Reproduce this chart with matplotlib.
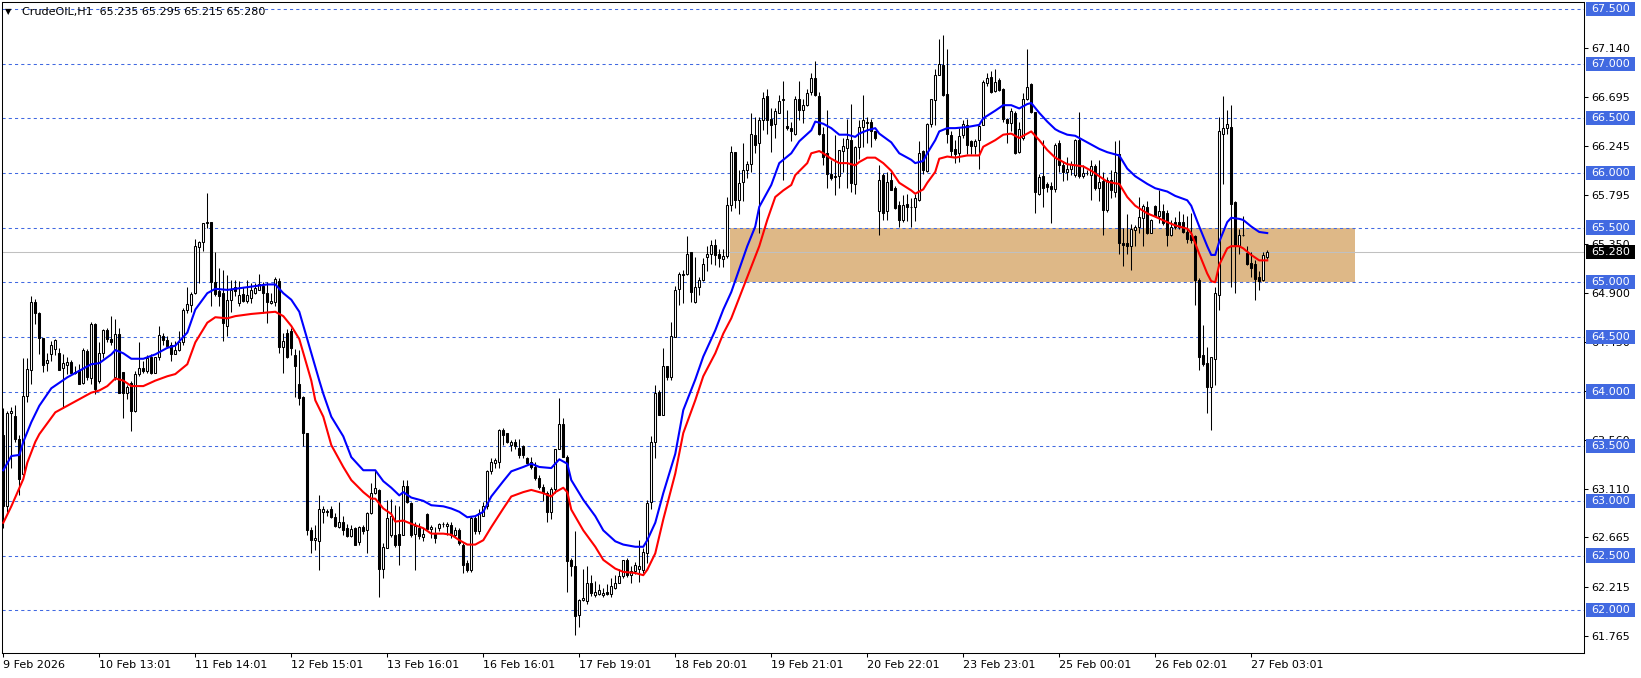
import matplotlib
matplotlib.use("Agg")
import matplotlib.pyplot as plt
import matplotlib.transforms as mtransforms
from matplotlib.patches import Rectangle
import numpy as np

# CrudeOIL H1 candles, one entry per bar (bar 0 = 9 Feb 2026)
opens = [
    63.60, 62.95, 63.80, 63.78, 63.57, 63.25, 63.96, 64.20, 64.82, 64.72,
    64.49, 64.26, 64.34, 64.39, 64.35, 64.22, 64.24, 64.27, 64.17, 64.20,
    64.08, 64.37, 64.12, 64.62, 64.10, 64.35, 64.56, 64.48, 64.13, 64.53,
    64.18, 63.99, 64.08, 63.82, 64.16, 64.22, 64.19, 64.32, 64.17, 64.32,
    64.51, 64.47, 64.43, 64.34, 64.38, 64.45, 64.75, 64.79, 64.90, 65.32,
    65.37, 65.54, 65.55, 65.00, 64.92, 64.90, 64.60, 64.84, 64.96, 64.81,
    64.89, 64.83, 64.86, 64.90, 64.93, 64.97, 64.90, 64.81, 64.82, 65.01,
    64.41, 64.54, 64.55, 64.33, 64.07, 63.95, 63.62, 62.73, 62.64, 62.63,
    62.90, 62.90, 62.93, 62.85, 62.76, 62.81, 62.75, 62.68, 62.75, 62.62,
    62.76, 62.73, 62.89, 63.07, 63.10, 62.38, 62.57, 62.69, 62.69, 62.70,
    62.69, 63.14, 62.98, 62.70, 62.75, 62.67, 62.88, 62.74, 62.70, 62.75,
    62.79, 62.77, 62.78, 62.69, 62.73, 62.60, 62.43, 62.37, 62.84, 62.72,
    62.86, 62.95, 63.27, 63.35, 63.36, 63.65, 63.62, 63.51, 63.54, 63.48,
    63.50, 63.39, 63.36, 63.31, 63.21, 63.13, 63.07, 62.90, 63.11, 63.47,
    63.70, 63.40, 62.46, 62.40, 61.96, 62.09, 62.08, 62.25, 62.14, 62.15,
    62.14, 62.17, 62.15, 62.20, 62.25, 62.31, 62.46, 62.32, 62.36, 62.38,
    62.37, 62.52, 62.99, 63.54, 64.00, 63.79, 64.23, 64.13, 64.50, 64.94,
    65.08, 65.08, 65.28, 64.82, 64.96, 65.02, 65.23, 65.26, 65.34, 65.26,
    65.21, 65.24, 65.71, 66.19, 65.75, 65.92, 66.03, 66.08, 66.35, 66.27,
    66.48, 66.70, 66.49, 66.45, 66.55, 66.67, 66.43, 66.41, 66.36, 66.68,
    66.58, 66.62, 66.74, 66.87, 66.70, 66.36, 66.18, 65.99, 65.97, 65.97,
    66.20, 66.23, 66.30, 65.90, 66.24, 66.42, 66.47, 66.47, 66.38, 65.65,
    65.98, 65.65, 65.94, 65.86, 65.71, 65.57, 65.72, 65.69, 65.69, 65.75,
    66.20, 66.02, 66.45, 66.67, 66.90, 66.99, 66.72, 66.35, 66.22, 66.18,
    66.35, 66.44, 66.29, 66.25, 66.30, 66.44, 66.82, 66.88, 66.75, 66.85,
    66.77, 66.49, 66.46, 66.55, 66.19, 66.32, 66.68, 66.81, 66.56, 65.81,
    65.97, 65.90, 65.88, 65.85, 66.27, 66.07, 66.01, 66.04, 65.98, 66.30,
    65.97, 66.00, 65.98, 66.06, 65.86, 65.93, 65.66, 65.94, 65.83, 66.17,
    65.36, 65.36, 65.33, 65.48, 65.51, 65.59, 65.69, 65.45, 65.70, 65.61,
    65.65, 65.63, 65.43, 65.55, 65.55, 65.55, 65.46, 65.43, 65.42, 65.02,
    64.33, 64.26, 64.04, 64.30, 64.88, 66.36, 66.41, 66.42, 65.73, 65.33,
    65.43, 65.27, 65.18, 65.17, 65.05, 65.02, 65.235,
]
highs = [
    63.85, 63.82, 63.86, 63.88, 63.60, 64.31, 64.31, 64.87, 64.85, 64.73,
    64.49, 64.35, 64.46, 64.48, 64.40, 64.34, 64.32, 64.29, 64.23, 64.25,
    64.40, 64.39, 64.64, 64.63, 64.45, 64.57, 64.58, 64.69, 64.66, 64.58,
    64.18, 64.06, 64.10, 64.19, 64.45, 64.28, 64.33, 64.34, 64.32, 64.60,
    64.54, 64.51, 64.45, 64.46, 64.55, 64.76, 64.96, 64.91, 65.40, 65.38,
    65.54, 65.82, 65.55, 65.28, 65.13, 65.11, 65.07, 65.02, 65.02, 65.01,
    64.96, 65.02, 64.99, 64.99, 65.08, 65.00, 65.00, 64.90, 65.05, 65.04,
    64.54, 64.57, 64.58, 64.39, 64.38, 63.96, 63.62, 62.76, 62.78, 63.05,
    62.95, 62.93, 62.95, 62.89, 62.99, 62.86, 62.79, 62.78, 62.76, 62.77,
    62.78, 62.90, 63.16, 63.28, 63.11, 62.61, 63.01, 63.02, 62.96, 62.95,
    63.19, 63.19, 62.99, 62.81, 62.80, 62.75, 62.89, 62.78, 62.76, 62.80,
    62.81, 62.81, 62.81, 62.76, 62.75, 62.61, 62.46, 62.86, 62.86, 62.93,
    62.99, 63.28, 63.39, 63.39, 63.66, 63.67, 63.62, 63.56, 63.57, 63.57,
    63.51, 63.40, 63.40, 63.36, 63.24, 63.15, 63.09, 63.13, 63.47, 63.94,
    63.76, 63.42, 62.48, 62.72, 62.10, 62.38, 62.40, 62.32, 62.27, 62.24,
    62.20, 62.24, 62.29, 62.32, 62.38, 62.46, 62.48, 62.40, 62.44, 62.64,
    62.57, 63.01, 63.59, 64.06, 64.01, 64.40, 64.23, 64.64, 64.97, 65.09,
    65.11, 65.42, 65.28, 65.23, 65.05, 65.22, 65.33, 65.39, 65.40, 65.30,
    65.30, 65.78, 66.25, 66.19, 66.03, 66.27, 66.11, 66.55, 66.51, 66.51,
    66.74, 66.77, 66.59, 66.59, 66.71, 66.84, 66.58, 66.47, 66.70, 66.84,
    66.68, 66.77, 66.91, 67.02, 66.74, 66.42, 66.58, 66.12, 66.35, 66.21,
    66.32, 66.49, 66.63, 66.25, 66.48, 66.71, 66.51, 66.49, 66.38, 66.07,
    66.00, 66.01, 66.01, 65.88, 65.74, 65.80, 65.81, 65.77, 65.81, 66.29,
    66.21, 66.46, 66.68, 66.95, 67.23, 67.26, 67.13, 66.38, 66.30, 66.41,
    66.48, 66.49, 66.30, 66.31, 66.44, 66.85, 66.91, 66.93, 66.95, 66.87,
    66.78, 66.50, 66.59, 66.57, 66.47, 66.73, 67.13, 66.82, 66.56, 65.99,
    66.30, 65.92, 65.92, 66.27, 66.30, 66.11, 66.15, 66.11, 66.31, 66.56,
    66.07, 66.03, 66.12, 66.08, 66.12, 66.01, 65.96, 66.03, 66.29, 66.30,
    65.50, 65.62, 65.53, 65.52, 65.78, 65.72, 65.74, 65.58, 65.71, 65.84,
    65.72, 65.66, 65.57, 65.60, 65.65, 65.62, 65.61, 65.63, 65.43, 65.04,
    64.61, 64.41, 64.32, 64.96, 66.51, 66.70, 66.58, 66.62, 65.74, 65.49,
    65.61, 65.33, 65.28, 65.20, 65.10, 65.28, 65.295,
]
lows = [
    62.75, 62.90, 63.30, 63.54, 63.05, 63.23, 63.90, 64.07, 64.62, 64.34,
    64.18, 64.19, 64.28, 64.33, 64.20, 63.85, 64.16, 64.16, 64.16, 64.07,
    64.07, 64.11, 64.07, 63.98, 64.08, 64.31, 64.45, 64.43, 64.11, 63.99,
    63.76, 63.93, 63.64, 63.81, 64.14, 64.17, 64.17, 64.16, 64.17, 64.29,
    64.43, 64.40, 64.28, 64.34, 64.37, 64.43, 64.72, 64.73, 64.89, 64.99,
    65.29, 65.50, 64.78, 64.87, 64.78, 64.46, 64.51, 64.73, 64.87, 64.78,
    64.82, 64.81, 64.81, 64.89, 64.93, 64.72, 64.63, 64.80, 64.78, 64.35,
    64.17, 64.31, 64.33, 63.95, 63.88, 63.50, 62.69, 62.52, 62.55, 62.37,
    62.80, 62.86, 62.84, 62.76, 62.75, 62.69, 62.67, 62.67, 62.60, 62.60,
    62.70, 62.52, 62.88, 63.06, 62.12, 62.29, 62.57, 62.67, 62.58, 62.41,
    62.69, 62.98, 62.67, 62.37, 62.65, 62.63, 62.73, 62.66, 62.61, 62.72,
    62.76, 62.69, 62.66, 62.67, 62.60, 62.34, 62.35, 62.35, 62.70, 62.70,
    62.86, 62.93, 63.25, 63.30, 63.30, 63.51, 63.53, 63.46, 63.47, 63.39,
    63.39, 63.34, 63.29, 63.19, 63.11, 63.00, 62.81, 62.83, 63.07, 63.47,
    63.40, 62.17, 62.31, 61.77, 61.85, 62.08, 62.06, 62.13, 62.12, 62.14,
    62.12, 62.14, 62.12, 62.19, 62.25, 62.29, 62.30, 62.25, 62.33, 62.26,
    62.34, 62.43, 62.93, 63.39, 63.79, 63.79, 64.11, 64.11, 64.50, 64.79,
    64.81, 65.07, 64.82, 64.81, 64.88, 65.01, 65.10, 65.17, 65.16, 65.14,
    65.14, 65.22, 65.65, 65.68, 65.62, 65.74, 65.95, 66.01, 66.18, 65.45,
    66.39, 66.36, 66.19, 66.32, 66.55, 65.94, 66.39, 66.29, 66.35, 66.48,
    66.46, 66.61, 66.71, 66.70, 66.35, 66.07, 65.86, 65.94, 65.80, 65.86,
    66.01, 65.86, 65.83, 65.81, 66.13, 66.24, 66.27, 66.24, 66.30, 65.43,
    65.57, 65.57, 65.84, 65.67, 65.51, 65.55, 65.56, 65.51, 65.56, 65.74,
    65.99, 66.01, 66.42, 66.44, 66.90, 66.70, 66.27, 66.15, 66.09, 66.10,
    66.32, 66.17, 66.17, 66.17, 66.04, 66.44, 66.80, 66.73, 66.74, 66.75,
    66.47, 66.27, 66.38, 66.17, 66.18, 66.30, 66.67, 66.55, 65.63, 65.80,
    65.69, 65.83, 65.54, 65.83, 66.01, 65.93, 65.94, 65.98, 65.96, 65.95,
    65.95, 65.98, 65.75, 65.84, 65.74, 65.43, 65.64, 65.77, 65.78, 65.26,
    65.15, 65.26, 65.11, 65.33, 65.45, 65.33, 65.44, 65.45, 65.60, 65.54,
    65.52, 65.33, 65.42, 65.49, 65.49, 65.45, 65.36, 65.36, 64.79, 64.20,
    64.23, 63.80, 63.65, 64.06, 64.75, 65.90, 66.36, 64.96, 64.90, 65.26,
    65.42, 65.16, 65.05, 64.84, 64.93, 65.01, 65.215,
]
closes = [
    62.95, 63.80, 63.82, 63.57, 63.20, 63.96, 64.21, 64.82, 64.72, 64.49,
    64.24, 64.29, 64.43, 64.47, 64.20, 64.26, 64.27, 64.17, 64.18, 64.07,
    64.38, 64.13, 64.62, 64.02, 64.35, 64.56, 64.48, 64.45, 64.53, 63.99,
    63.99, 64.04, 63.82, 64.16, 64.22, 64.19, 64.31, 64.17, 64.32, 64.52,
    64.47, 64.42, 64.34, 64.38, 64.45, 64.75, 64.80, 64.89, 65.33, 65.37,
    65.54, 65.55, 65.00, 64.89, 64.87, 64.63, 64.84, 64.93, 64.92, 64.88,
    64.83, 64.88, 64.93, 64.95, 64.98, 64.90, 64.82, 64.83, 65.03, 64.41,
    64.46, 64.32, 64.40, 64.23, 63.94, 63.62, 62.73, 62.64, 62.66, 62.93,
    62.93, 62.91, 62.85, 62.77, 62.81, 62.73, 62.68, 62.74, 62.60, 62.76,
    62.72, 62.89, 63.07, 63.12, 62.38, 62.58, 62.84, 62.86, 62.60, 62.60,
    63.14, 62.99, 62.69, 62.77, 62.68, 62.70, 62.74, 62.76, 62.66, 62.79,
    62.79, 62.79, 62.69, 62.73, 62.61, 62.41, 62.37, 62.84, 62.72, 62.89,
    62.95, 63.27, 63.36, 63.37, 63.65, 63.60, 63.54, 63.54, 63.50, 63.42,
    63.42, 63.35, 63.31, 63.21, 63.13, 63.07, 62.90, 63.11, 63.47, 63.70,
    63.40, 62.45, 62.40, 61.95, 62.09, 62.11, 62.25, 62.16, 62.17, 62.18,
    62.16, 62.15, 62.22, 62.25, 62.31, 62.46, 62.32, 62.36, 62.41, 62.40,
    62.53, 62.98, 63.54, 63.99, 63.79, 64.23, 64.13, 64.51, 64.93, 65.08,
    65.07, 65.26, 64.91, 64.96, 65.02, 65.17, 65.26, 65.34, 65.25, 65.22,
    65.24, 65.71, 66.19, 65.75, 65.91, 66.03, 66.08, 66.36, 66.26, 66.48,
    66.69, 66.48, 66.44, 66.57, 66.66, 66.68, 66.41, 66.38, 66.68, 66.58,
    66.62, 66.73, 66.87, 66.71, 66.36, 66.15, 65.99, 65.95, 65.96, 66.21,
    66.25, 66.31, 65.91, 66.24, 66.42, 66.48, 66.46, 66.38, 66.32, 65.94,
    65.63, 65.92, 65.84, 65.68, 65.57, 65.71, 65.69, 65.69, 65.77, 66.18,
    66.03, 66.45, 66.68, 66.90, 67.00, 66.71, 66.36, 66.20, 66.17, 66.34,
    66.45, 66.26, 66.25, 66.29, 66.43, 66.83, 66.87, 66.74, 66.83, 66.76,
    66.49, 66.46, 66.57, 66.18, 66.40, 66.68, 66.79, 66.56, 65.83, 65.96,
    65.86, 65.87, 65.85, 66.26, 66.07, 66.01, 66.04, 66.08, 66.30, 65.97,
    66.00, 66.00, 66.06, 65.86, 65.92, 65.66, 65.94, 65.84, 66.01, 65.36,
    65.34, 65.33, 65.49, 65.51, 65.60, 65.70, 65.45, 65.57, 65.61, 65.65,
    65.54, 65.43, 65.51, 65.51, 65.51, 65.46, 65.40, 65.39, 65.02, 64.32,
    64.25, 64.04, 64.32, 64.90, 66.38, 66.41, 66.45, 65.72, 65.33, 65.43,
    65.43, 65.17, 65.13, 65.03, 65.01, 65.25, 65.28,
]

# the two moving-average lines (bar number, price)
blue_bar = [0, 2, 4, 5, 7, 9, 12, 16, 19, 22, 24, 27, 28, 30, 32, 35, 38, 41, 43, 46,
            48, 51, 53, 56, 62, 66, 68, 70, 72, 74, 79, 80, 82, 85, 87, 90, 92, 93, 95, 97,
            99, 100, 102, 105, 107, 110, 112, 114, 116, 118, 120, 122, 125, 127, 130, 132, 134, 137, 139, 141,
            142, 145, 148, 150, 153, 155, 158, 160, 161, 163, 165, 168, 170, 173, 175, 178, 180, 182, 186, 188,
            189, 192, 194, 197, 199, 202, 203, 205, 207, 209, 211, 213, 214, 216, 218, 219, 222, 224, 227, 228,
            230, 231, 233, 234, 236, 238, 241, 244, 245, 248, 250, 252, 254, 256, 257, 259, 261, 263, 264, 266,
            268, 270, 272, 274, 276, 278, 279, 281, 283, 286, 288, 291, 293, 296, 297, 299, 301, 302, 303, 304,
            306, 307, 309, 310, 312, 314, 316]
blue_ma = [63.28, 63.41, 63.42, 63.54, 63.72, 63.87, 64.03, 64.13, 64.19, 64.25, 64.26, 64.34, 64.38, 64.35, 64.30, 64.30, 64.34, 64.40, 64.42, 64.54,
           64.75, 64.90, 64.94, 64.93, 64.96, 64.98, 64.98, 64.90, 64.84, 64.73, 64.10, 63.98, 63.77, 63.59, 63.40, 63.28, 63.28, 63.28, 63.18, 63.12,
           63.05, 63.08, 63.03, 63.00, 62.96, 62.95, 62.93, 62.90, 62.85, 62.86, 62.90, 63.04, 63.18, 63.27, 63.31, 63.34, 63.31, 63.30, 63.38, 63.34,
           63.19, 63.01, 62.86, 62.73, 62.63, 62.60, 62.58, 62.58, 62.64, 62.80, 63.07, 63.43, 63.83, 64.11, 64.32, 64.56, 64.75, 64.91, 65.33, 65.51,
           65.69, 65.89, 66.09, 66.18, 66.29, 66.39, 66.47, 66.45, 66.41, 66.35, 66.35, 66.33, 66.36, 66.39, 66.41, 66.36, 66.28, 66.18, 66.12, 66.09,
           66.11, 66.18, 66.30, 66.38, 66.41, 66.41, 66.42, 66.44, 66.50, 66.57, 66.62, 66.62, 66.59, 66.63, 66.64, 66.55, 66.47, 66.40, 66.38, 66.35,
           66.34, 66.30, 66.26, 66.22, 66.19, 66.17, 66.16, 66.04, 65.97, 65.90, 65.86, 65.83, 65.79, 65.75, 65.70, 65.51, 65.33, 65.25, 65.25, 65.37,
           65.55, 65.59, 65.58, 65.57, 65.51, 65.46, 65.45]
red_bar = [0, 2, 5, 6, 8, 9, 12, 13, 16, 19, 22, 24, 26, 28, 30, 32, 35, 38, 41, 43,
           46, 48, 51, 53, 56, 58, 62, 65, 68, 70, 72, 74, 77, 78, 80, 82, 85, 87, 90, 92,
           93, 95, 97, 98, 100, 102, 105, 107, 110, 112, 114, 116, 118, 120, 122, 125, 127, 130, 132, 135,
           137, 138, 140, 141, 142, 145, 148, 150, 153, 155, 158, 160, 161, 163, 165, 168, 170, 173, 175, 178,
           180, 182, 189, 191, 193, 195, 197, 198, 201, 202, 204, 205, 207, 209, 211, 213, 214, 216, 218, 220,
           222, 224, 227, 228, 230, 231, 233, 234, 236, 238, 241, 244, 245, 248, 250, 252, 254, 256, 257, 259,
           261, 263, 264, 266, 268, 270, 272, 274, 276, 278, 279, 281, 283, 286, 288, 291, 293, 296, 297, 299,
           301, 302, 303, 304, 306, 307, 309, 310, 312, 314, 316]
red_ma = [62.80, 62.95, 63.20, 63.35, 63.54, 63.61, 63.76, 63.81, 63.87, 63.93, 63.99, 64.01, 64.05, 64.12, 64.10, 64.05, 64.05, 64.10, 64.14, 64.16,
          64.25, 64.45, 64.63, 64.68, 64.67, 64.69, 64.71, 64.72, 64.73, 64.69, 64.60, 64.48, 64.10, 63.92, 63.77, 63.51, 63.31, 63.19, 63.08, 63.02,
          63.02, 62.93, 62.88, 62.81, 62.82, 62.79, 62.75, 62.70, 62.70, 62.69, 62.64, 62.60, 62.60, 62.64, 62.76, 62.93, 63.04, 63.08, 63.10, 63.07,
          63.04, 63.08, 63.12, 63.08, 62.92, 62.73, 62.58, 62.46, 62.38, 62.35, 62.34, 62.32, 62.37, 62.52, 62.83, 63.25, 63.62, 63.92, 64.14, 64.35,
          64.53, 64.67, 65.33, 65.57, 65.78, 65.84, 65.89, 65.98, 66.09, 66.18, 66.20, 66.18, 66.13, 66.09, 66.09, 66.07, 66.10, 66.14, 66.14, 66.09,
          66.02, 65.91, 65.84, 65.81, 65.85, 65.91, 66.01, 66.13, 66.15, 66.14, 66.16, 66.16, 66.24, 66.30, 66.35, 66.36, 66.32, 66.36, 66.38, 66.30,
          66.21, 66.14, 66.12, 66.08, 66.07, 66.06, 66.02, 65.97, 65.92, 65.905, 65.90, 65.78, 65.70, 65.63, 65.60, 65.55, 65.52, 65.49, 65.45, 65.26,
          65.08, 65.01, 65.00, 65.16, 65.31, 65.33, 65.33, 65.31, 65.25, 65.20, 65.20]

levels = [62.0, 62.5, 63.0, 63.5, 64.0, 64.5, 65.0, 65.5, 66.0, 66.5, 67.0, 67.5]
scale_ticks = [61.765, 62.215, 62.665, 63.110, 63.560, 64.005, 64.450, 64.900,
               65.350, 65.795, 66.245, 66.695, 67.140]
last_price = 65.280
zone_low, zone_high = 65.0, 65.5
zone_from, zone_to = 181.8, 338.0

date_ticks = [0, 24, 48, 72, 96, 120, 144, 168, 192, 216, 240, 264, 288, 312]
date_labels = ["9 Feb 2026", "10 Feb 13:01", "11 Feb 14:01", "12 Feb 15:01",
               "13 Feb 16:01", "16 Feb 16:01", "17 Feb 19:01", "18 Feb 20:01",
               "19 Feb 21:01", "20 Feb 22:01", "23 Feb 23:01", "25 Feb 00:01",
               "26 Feb 02:01", "27 Feb 03:01"]

W, H = 1641, 678
fig = plt.figure(figsize=(W / 100, H / 100), dpi=100)
ax = fig.add_axes([2 / W, 25 / H, 1582 / W, 651 / H])
ax.set_xlim(-0.33, 395.2)
ax.set_ylim(61.608, 67.564)

# support zone
ax.add_patch(Rectangle((zone_from, zone_low), zone_to - zone_from, zone_high - zone_low,
                       facecolor="#DEB887", lw=0, zorder=1))

for lvl in levels:
    ax.axhline(lvl, color="#4169E1", lw=0.75, ls=(0, (3, 3)), zorder=2)
ax.axhline(last_price, color="#C0C0C0", lw=0.75, zorder=2)

# candles
o = np.array(opens); h = np.array(highs); l = np.array(lows); c = np.array(closes)
idx = np.arange(len(o))
body_lo = np.minimum(o, c)
body_hi = np.maximum(o, c)
ax.vlines(idx, np.minimum(l, body_lo), np.maximum(h, body_hi), color="black", lw=0.75, zorder=3)
ax.bar(idx, body_hi - body_lo, bottom=body_lo, width=0.55,
       color=np.where(c >= o, "white", "black"), edgecolor="black", linewidth=0.75, zorder=4)

ax.plot(blue_bar, blue_ma, color="#0000FF", lw=1.5, zorder=5)
ax.plot(red_bar, red_ma, color="#FF0000", lw=1.5, zorder=5)

# axes
for s in ax.spines.values():
    s.set_linewidth(0.75)
    s.set_color("black")
ax.yaxis.tick_right()
ax.set_yticks(scale_ticks)
ax.set_yticklabels([f"{v:.3f}" for v in scale_ticks])
ax.set_xticks(date_ticks)
ax.set_xticklabels(date_labels, ha="left")
ax.tick_params(axis="both", direction="out", length=3, width=0.75, pad=2,
               labelsize=8, colors="black")

# price boxes on the right scale
trans = mtransforms.blended_transform_factory(ax.transAxes, ax.transData)
box_h = 0.13
for lvl in levels:
    ax.add_patch(Rectangle((1.0013, lvl - box_h / 2), 0.031, box_h, transform=trans,
                           facecolor="#4169E1", lw=0, clip_on=False, zorder=10))
    ax.text(1.0045, lvl, f"{lvl:.3f}", transform=trans, color="white", fontsize=8,
            va="center", ha="left", clip_on=False, zorder=11)
ax.add_patch(Rectangle((1.0013, last_price - box_h / 2), 0.031, box_h, transform=trans,
                       facecolor="black", lw=0, clip_on=False, zorder=10))
ax.text(1.0045, last_price, f"{last_price:.3f}", transform=trans, color="white", fontsize=8,
        va="center", ha="left", clip_on=False, zorder=11)

# header
fig.text(5 / W, 1 - 12 / H, "\u25BC", fontsize=6, va="center", ha="left")
fig.text(22 / W, 1 - 12 / H, "CrudeOIL,H1  65.235 65.295 65.215 65.280",
         fontsize=8, va="center", ha="left")

fig.savefig("out.png", dpi=100, facecolor="white")
